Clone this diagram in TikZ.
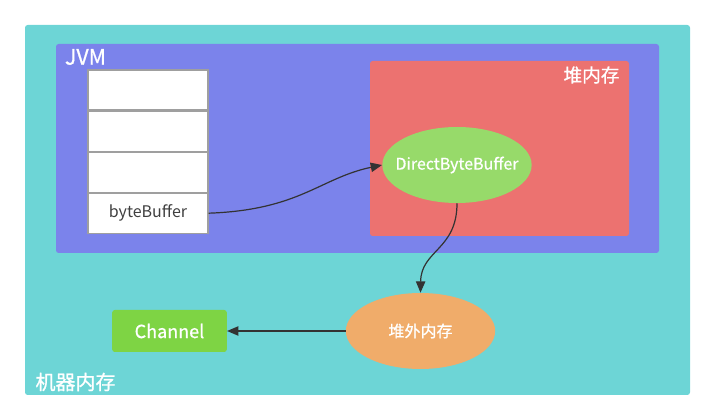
\documentclass[tikz,border=0pt]{standalone}
\usepackage{fontspec}
\setmainfont{Noto Sans CJK SC}
\newfontfamily\heavyfont{Noto Sans CJK SC}[FakeBold=0.8]
\usetikzlibrary{arrows.meta,positioning,shapes.geometric}
\definecolor{machinecol}{HTML}{6DD5D6}
\definecolor{jvmcol}{HTML}{7B83EB}
\definecolor{heapcol}{HTML}{EC7270}
\definecolor{dbbcol}{HTML}{97DA6A}
\definecolor{offheapcol}{HTML}{F0AC6A}
\definecolor{channelcol}{HTML}{7ED444}
\definecolor{linecol}{HTML}{333333}

\begin{document}
\begin{tikzpicture}[x=0.75pt, y=-0.75pt,
    area/.style={rounded corners=2pt, inner sep=0pt},
    areatitle/.style={text=white, font=\heavyfont\fontsize{15}{17}\selectfont, inner sep=0pt},
    cell/.style={draw=gray!75, line width=0.8pt, fill=white, minimum width=90pt,
        minimum height=30pt, inner sep=0pt, font=\fontsize{12}{14}\selectfont, text=black!75},
    blob/.style={ellipse, minimum width=112pt, minimum height=57pt, inner sep=0pt,
        text=white, font=\heavyfont\fontsize{12}{14}\selectfont},
    flow/.style={-{Triangle[length=8.5pt, width=7pt]}, draw=linecol, line width=0.9pt}
]
\useasboundingbox (0,0) rectangle (715,420);
\node[area, fill=machinecol, minimum width=498.75pt, minimum height=277.5pt] (machine) at (357.5,210) {};
\node[area, fill=jvmcol, minimum width=452.25pt, minimum height=156.75pt] (jvm) at (357.5,148.5) {};
\node[area, fill=heapcol, minimum width=194.25pt, minimum height=131.25pt] (heap) at (499.5,148.5) {};
\node[areatitle] (machinelabel) at (75.5,382) {机器内存};
\node[areatitle, font=\heavyfont\fontsize{16}{18}\selectfont] (jvmlabel) at (85.5,57) {JVM};
\node[areatitle, font=\heavyfont\fontsize{14}{16}\selectfont] (heaplabel) at (591.5,75) {堆内存};
\node[cell] (cell1) at (148,90) {};
\node[cell, below=0pt of cell1] (cell2) {};
\node[cell, below=0pt of cell2] (cell3) {};
\node[cell, below=0pt of cell3] (buf) {byteBuffer};
\node[blob, fill=dbbcol, inner xsep=-7pt] (dbb) at (457,165) {DirectByteBuffer};
\node[blob, fill=offheapcol] (offheap) at (420.5,331) {堆外内存};
\node[area, fill=channelcol, minimum width=86pt, minimum height=31.5pt, text=white,
    font=\heavyfont\fontsize{13.5}{16}\selectfont] (channel) at (169.5,331) {Channel};
\draw[flow] (buf.east) .. controls (300,210) and (320,178) .. (dbb.west);
\draw[flow] (dbb.south) .. controls (457,250) and (421,250) .. (offheap.north);
\draw[flow] (offheap.west) -- (channel.east);
\end{tikzpicture}
\end{document}
